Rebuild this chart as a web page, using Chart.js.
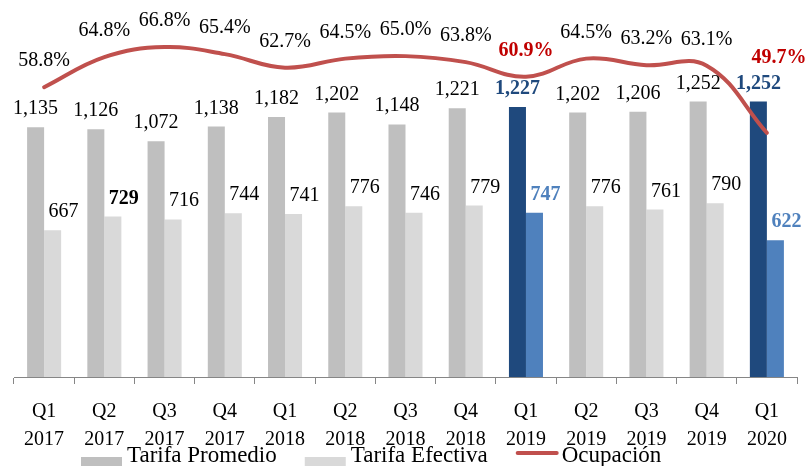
<!DOCTYPE html>
<html>
<head>
<meta charset="utf-8">
<script src="https://cdn.jsdelivr.net/npm/chart.js@4"></script>
<style>
  body { margin: 0; background: #fff; }
  canvas { display: block; }
</style>
</head>
<body>
<canvas id="mycanvas" width="807" height="466"></canvas>
<script>
// data
const quarters = ['Q1', 'Q2', 'Q3', 'Q4', 'Q1', 'Q2', 'Q3', 'Q4', 'Q1', 'Q2', 'Q3', 'Q4', 'Q1'];
const years = ['2017', '2017', '2017', '2017', '2018', '2018', '2018', '2018', '2019', '2019', '2019', '2019', '2020'];
const tarifaPromedio = [1135, 1126, 1072, 1138, 1182, 1202, 1148, 1221, 1227, 1202, 1206, 1252, 1252];
const tarifaEfectiva = [667, 729, 716, 744, 741, 776, 746, 779, 747, 776, 761, 790, 622];
const ocupacion = [58.8, 64.8, 66.8, 65.4, 62.7, 64.5, 65.0, 63.8, 60.9, 64.5, 63.2, 63.1, 49.7];
const highlighted = [8, 12];

const FONT = "'Liberation Serif', 'Times New Roman', serif";
const GRAY1 = '#BFBFBF', GRAY2 = '#D9D9D9', BLUE1 = '#1F497D', BLUE2 = '#4F81BD', RED = '#C0504D', DARKRED = '#C00000';

const labels = quarters.map(function (q, i) { return [q, years[i]]; });
function isHi(i) { return highlighted.indexOf(i) >= 0; }

function fmt(v) { return v.toLocaleString('en-US'); }

// labels over bars and line
const valueLabels = {
  id: 'valueLabels',
  afterDatasetsDraw(chart) {
    const ctx = chart.ctx;
    ctx.save();
    ctx.textAlign = 'center';
    ctx.textBaseline = 'alphabetic';
    chart.data.datasets.forEach(function (ds, d) {
      const meta = chart.getDatasetMeta(d);
      meta.data.forEach(function (el, i) {
        let txt, color = '#000', bold = false, x = el.x, y = el.y;
        if (ds.type === 'line') {
          txt = ds.data[i].toFixed(1) + '%';
          if (isHi(i)) { color = DARKRED; bold = true; }
          if (i === ds.data.length - 1) { x += 12; y -= 70; } else { y -= 21; }
        } else if (ds.label === 'Tarifa Promedio') {
          txt = fmt(ds.data[i]);
          if (isHi(i)) { color = BLUE1; bold = true; }
          y -= 13;
        } else {
          txt = fmt(ds.data[i]);
          if (isHi(i)) { color = BLUE2; bold = true; }
          if (i === 1) bold = true;
          x += 11; y -= 13;
        }
        ctx.font = (bold ? 'bold ' : '') + '20px ' + FONT;
        ctx.fillStyle = color;
        ctx.fillText(txt, x, y);
      });
    });
    ctx.restore();
  }
};

// legend at the bottom, bar boxes and a line sample
const bottomLegend = {
  id: 'bottomLegend',
  afterDraw(chart) {
    const ctx = chart.ctx;
    const items = [
      { text: 'Tarifa Promedio', kind: 'box', color: GRAY1 },
      { text: 'Tarifa Efectiva', kind: 'box', color: GRAY2 },
      { text: 'Ocupación', kind: 'line', color: RED }
    ];
    ctx.save();
    ctx.font = '23px ' + FONT;
    ctx.textBaseline = 'alphabetic';
    ctx.textAlign = 'left';
    let x = 81;
    const base = 462;
    items.forEach(function (it) {
      if (it.kind === 'box') {
        ctx.fillStyle = it.color;
        ctx.fillRect(x, 457, 41, 13);
      } else {
        ctx.strokeStyle = it.color;
        ctx.lineWidth = 4;
        ctx.lineCap = 'round';
        ctx.beginPath();
        ctx.moveTo(x + 2, 453);
        ctx.lineTo(x + 41, 453);
        ctx.stroke();
      }
      ctx.fillStyle = '#000';
      ctx.fillText(it.text, x + 46, base);
      x += 46 + ctx.measureText(it.text).width + 28;
    });
    ctx.restore();
  }
};

const chartdata = {
  labels: labels,
  datasets: [
    {
      type: 'line',
      label: 'Ocupación',
      data: ocupacion,
      yAxisID: 'y2',
      borderColor: RED,
      borderWidth: 4,
      tension: 0.4,
      pointRadius: 0,
      fill: false,
      borderCapStyle: 'round'
    },
    {
      label: 'Tarifa Promedio',
      data: tarifaPromedio,
      yAxisID: 'y',
      backgroundColor: tarifaPromedio.map(function (v, i) { return isHi(i) ? BLUE1 : GRAY1; })
    },
    {
      label: 'Tarifa Efectiva',
      data: tarifaEfectiva,
      yAxisID: 'y',
      backgroundColor: tarifaEfectiva.map(function (v, i) { return isHi(i) ? BLUE2 : GRAY2; })
    }
  ]
};

const ctx = document.getElementById('mycanvas');
const barGraph = new Chart(ctx, {
  type: 'bar',
  data: chartdata,
  plugins: [valueLabels, bottomLegend],
  options: {
    responsive: false,
    animation: false,
    maintainAspectRatio: false,
    datasets: { bar: { barPercentage: 1, categoryPercentage: 0.565 } },
    layout: { padding: { left: 14, right: 10, top: 10, bottom: -2 } },
    plugins: { legend: { display: false }, tooltip: { enabled: false } },
    scales: {
      x: {
        grid: { display: true, drawOnChartArea: false, tickLength: 7, color: '#868686', offset: true },
        border: { display: true, color: '#868686', width: 1 },
        ticks: { color: '#000', font: { family: FONT, size: 20, lineHeight: 1.4 }, padding: 14, maxRotation: 0, autoSkip: false }
      },
      y: { display: false, min: 0, max: 1668 },
      y2: { display: false, position: 'right', min: 1.0, max: 74.2 }
    }
  }
});
</script>
</body>
</html>
